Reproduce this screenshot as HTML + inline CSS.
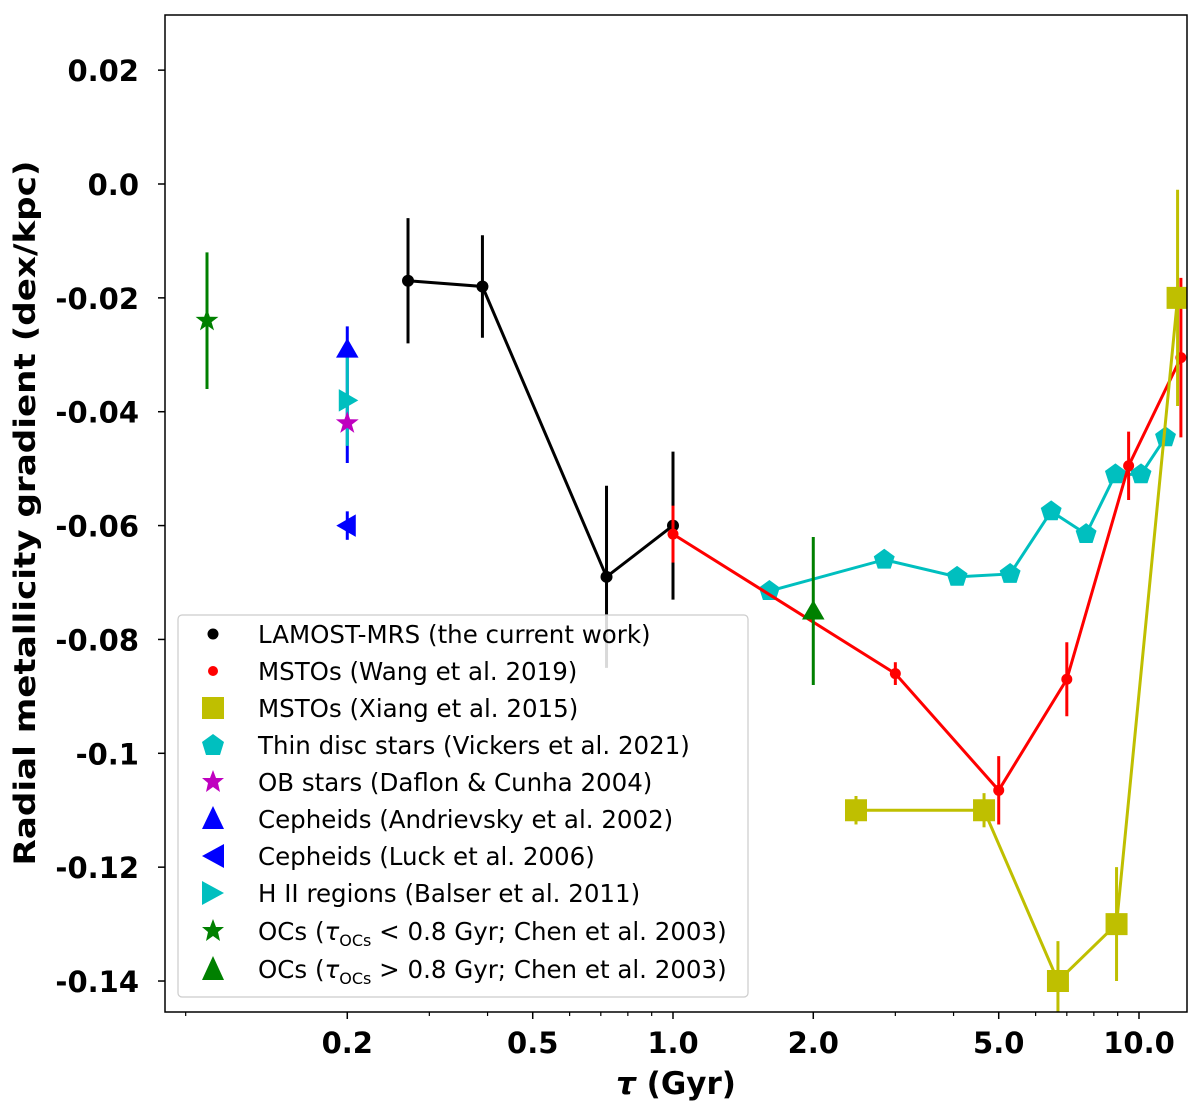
<!DOCTYPE html>
<html><head><meta charset="utf-8"><style>
body{margin:0;background:#fff;}
svg{display:block;font-family:"DejaVu Sans","Liberation Sans",sans-serif;}
</style></head><body>
<svg id="chart" width="1200" height="1108" viewBox="0 0 1200 1108"></svg>
<script>
const blackX=[0.27,0.39,0.72,1.0];
const blackY=[-0.017,-0.018,-0.069,-0.060];
const blackE=[0.011,0.009,0.016,0.013];
const redX=[1.0,3.0,5.0,7.0,9.5,12.3];
const redY=[-0.0615,-0.086,-0.1065,-0.087,-0.0495,-0.0305];
const redE=[0.005,0.002,0.006,0.0065,0.006,0.014];
const yelX=[2.47,4.65,6.7,8.95,12.1];
const yelY=[-0.110,-0.110,-0.140,-0.130,-0.020];
const yelE=[0.0025,0.003,0.007,0.010,0.019];
const cyX=[1.61,2.84,4.07,5.29,6.48,7.7,8.9,10.1,11.4];
const cyY=[-0.0715,-0.066,-0.069,-0.0685,-0.0575,-0.0615,-0.051,-0.051,-0.0445];
const obPt=[0.2,-0.042,0.0];
const andPt=[0.2,-0.029,0.004,0.020];
const luckPt=[0.2,-0.060,0.0025];
const hiiPt=[0.2,-0.038,0.008];
const ocYoung=[0.1,-0.024,0.012];
const ocOld=[2.0,-0.075,0.013];
const yTicks=[0.02,0.0,-0.02,-0.04,-0.06,-0.08,-0.1,-0.12,-0.14];
const yTickLabels=["0.02","0.0","-0.02","-0.04","-0.06","-0.08","-0.1","-0.12","-0.14"];
const xTicks=[0.2,0.5,1.0,2.0,5.0,10.0];
const xTickLabels=["0.2","0.5","1.0","2.0","5.0","10.0"];
const xMinor=[0.09,0.3,0.4,0.6,0.7,0.8,0.9,3,4,6,7,8,9,20];

const L=165,R=1187,T=15,B=1012;
const X=v=>673+466*Math.log10(v);
const Y=v=>184-5693*v;
const svg=document.getElementById('chart');
const NS='http://www.w3.org/2000/svg';
function mk(tag,at,parent){const e=document.createElementNS(NS,tag);for(const k in at)e.setAttribute(k,at[k]);(parent||svg).appendChild(e);return e;}
const clip=mk('clipPath',{id:'pc'});mk('rect',{x:L,y:T,width:R-L,height:B-T},clip);
const plot=mk('g',{'clip-path':'url(#pc)'});



function ebar(x,y,eu,ed,color,name){
  const l=mk('line',{x1:X(x),x2:X(x),y1:Y(y+eu),y2:Y(y-ed),stroke:color,'stroke-width':3},plot);
  
  
}
function line(xs,ys,color,name){
  const p=mk('polyline',{points:xs.map((x,i)=>X(x)+','+Y(ys[i])).join(' '),fill:'none',stroke:color,'stroke-width':3},plot);
  
  
}
function poly(n,r,rot){let s=[];for(let i=0;i<n;i++){const a=rot+i*2*Math.PI/n;s.push([r*Math.cos(a),r*Math.sin(a)]);}return s;}
function star(r){let s=[];for(let i=0;i<10;i++){const a=-Math.PI/2+i*Math.PI/5;const rr=i%2?r*0.4:r;s.push([rr*Math.cos(a),rr*Math.sin(a)]);}return s;}
function marker(type,cx,cy,color,parent,name){
  let e;
  if(type==='dot')e=mk('circle',{cx,cy,r:6,fill:color},parent);
  else if(type==='rdot')e=mk('circle',{cx,cy,r:5.5,fill:color},parent);
  else{
    let pts;
    if(type==='sq')pts=[[-11,-11],[11,-11],[11,11],[-11,11]];
    else if(type==='pent')pts=poly(5,11,-Math.PI/2);
    else if(type==='tri')pts=poly(3,13,-Math.PI/2).map(p=>[p[0],p[1]+2]);
    else if(type==='tl')pts=poly(3,13,Math.PI).map(p=>[p[0]+2,p[1]]);
    else if(type==='tr')pts=poly(3,13,0).map(p=>[p[0]-2,p[1]]);
    else if(type==='star')pts=star(12);
    e=mk('polygon',{points:pts.map(p=>(cx+p[0])+','+(cy+p[1])).join(' '),fill:color},parent);
  }
  
  
  return e;
}
const BLK='#000',RED='#ff0000',YEL='#bfbf00',CY='#00bfbf',MAG='#bf00bf',BLU='#0000ff',GRN='#008000';

ebar(ocYoung[0],ocYoung[1],ocYoung[2],ocYoung[2],GRN,'oc-young-errorbar');
ebar(andPt[0],andPt[1],andPt[2],andPt[3],BLU,'cepheid-andrievsky-errorbar');
ebar(hiiPt[0],hiiPt[1],hiiPt[2],hiiPt[2],CY,'hii-errorbar');
ebar(luckPt[0],luckPt[1],luckPt[2],luckPt[2],BLU,'cepheid-luck-errorbar');
marker('star',X(ocYoung[0]),Y(ocYoung[1]),GRN,plot,'oc-young-point');
marker('tri',X(andPt[0]),Y(andPt[1]),BLU,plot,'cepheid-andrievsky-point');
marker('tr',X(hiiPt[0]),Y(hiiPt[1]),CY,plot,'hii-point');
marker('star',X(obPt[0]),Y(obPt[1]),MAG,plot,'ob-star-point');
marker('tl',X(luckPt[0]),Y(luckPt[1]),BLU,plot,'cepheid-luck-point');

line(cyX,cyY,CY,'vickers-line');
cyX.forEach((x,i)=>marker('pent',X(x),Y(cyY[i]),CY,plot,'vickers-point'));
blackX.forEach((x,i)=>ebar(x,blackY[i],blackE[i],blackE[i],BLK,'lamost-errorbar'));
line(blackX,blackY,BLK,'lamost-line');
blackX.forEach((x,i)=>marker('dot',X(x),Y(blackY[i]),BLK,plot,'lamost-point'));
redX.forEach((x,i)=>ebar(x,redY[i],redE[i],redE[i],RED,'wang-errorbar'));
line(redX,redY,RED,'wang-line');
redX.forEach((x,i)=>marker('rdot',X(x),Y(redY[i]),RED,plot,'wang-point'));
ebar(ocOld[0],ocOld[1],ocOld[2],ocOld[2],GRN,'oc-old-errorbar');
marker('tri',X(ocOld[0]),Y(ocOld[1]),GRN,plot,'oc-old-point');
yelX.forEach((x,i)=>ebar(x,yelY[i],yelE[i],yelE[i],YEL,'xiang-errorbar'));
line(yelX,yelY,YEL,'xiang-line');
yelX.forEach((x,i)=>marker('sq',X(x),Y(yelY[i]),YEL,plot,'xiang-point'));

const fr=mk('rect',{x:L,y:T,width:R-L,height:B-T,fill:'none',stroke:'#000','stroke-width':1.5});

yTicks.forEach((v,i)=>{
  const tk=mk('line',{x1:L-7,x2:L,y1:Y(v),y2:Y(v),stroke:'#000','stroke-width':1.5});
  
  const t=mk('text',{x:L-26,y:Y(v)+11,'text-anchor':'end','font-size':29,'font-weight':'bold'});
  t.textContent=yTickLabels[i];
  
});
xTicks.forEach((v,i)=>{
  const tk=mk('line',{x1:X(v),x2:X(v),y1:B,y2:B+7,stroke:'#000','stroke-width':1.5});
  
  const t=mk('text',{x:X(v),y:B+41,'text-anchor':'middle','font-size':29,'font-weight':'bold'});
  t.textContent=xTickLabels[i];
  
});
xMinor.forEach(v=>{
  if(X(v)<L||X(v)>R)return;
  const tk=mk('line',{x1:X(v),x2:X(v),y1:B,y2:B+4,stroke:'#000','stroke-width':1.2});
  
});
</script>
<svg width="1200" height="1108" style="position:absolute;left:0;top:0">
<text x="676" y="1094" text-anchor="middle" font-size="31" font-weight="bold" font-family="DejaVu Sans, sans-serif"><tspan font-style="italic">τ</tspan> (Gyr)</text>
<text transform="translate(35,513) rotate(-90)" text-anchor="middle" font-size="29.5" font-weight="bold" font-family="DejaVu Sans, sans-serif" textLength="705" lengthAdjust="spacingAndGlyphs">Radial metallicity gradient (dex/kpc)</text>
<g font-family="DejaVu Sans, sans-serif" font-size="24.5">
<rect x="178" y="615" width="570" height="382" rx="4" fill="#fff" fill-opacity="0.85" stroke="#ccc" stroke-width="1.2"/>
<g><circle cx="213" cy="634" r="5.5" fill="#000"/><text x="258" y="643">LAMOST-MRS (the current work)</text></g>
<g><circle cx="213" cy="671" r="5" fill="#ff0000"/><text x="258" y="680">MSTOs (Wang et al. 2019)</text></g>
<g><rect x="202" y="697" width="22" height="22" fill="#bfbf00"/><text x="258" y="717">MSTOs (Xiang et al. 2015)</text></g>
<g><polygon points="213,734 224,742 220,755 206,755 202,742" fill="#00bfbf"/><text x="258" y="754">Thin disc stars (Vickers et al. 2021)</text></g>
<g><polygon points="213,770 216,778 224,778 218,783 220,792 213,787 206,792 208,783 202,778 210,778" fill="#bf00bf"/><text x="258" y="791">OB stars (Daflon &amp; Cunha 2004)</text></g>
<g><polygon points="213,806 224,829 202,829" fill="#0000ff"/><text x="258" y="828">Cepheids (Andrievsky et al. 2002)</text></g>
<g><polygon points="202,856 224,844 224,868" fill="#0000ff"/><text x="258" y="865">Cepheids (Luck et al. 2006)</text></g>
<g><polygon points="224,893 202,881 202,905" fill="#00bfbf"/><text x="258" y="902">H II regions (Balser et al. 2011)</text></g>
<g><polygon points="213,919 216,927 224,927 218,932 220,941 213,936 206,941 208,932 202,927 210,927" fill="#008000"/><text x="258" y="940">OCs (<tspan font-style="italic">τ</tspan><tspan font-size="16" dy="6">OCs</tspan><tspan dy="-6"> &lt; 0.8 Gyr; Chen et al. 2003)</tspan></text></g>
<g><polygon points="213,956 224,980 202,980" fill="#008000"/><text x="258" y="978">OCs (<tspan font-style="italic">τ</tspan><tspan font-size="16" dy="6">OCs</tspan><tspan dy="-6"> &gt; 0.8 Gyr; Chen et al. 2003)</tspan></text></g>
</g>
</svg>
</body></html>
